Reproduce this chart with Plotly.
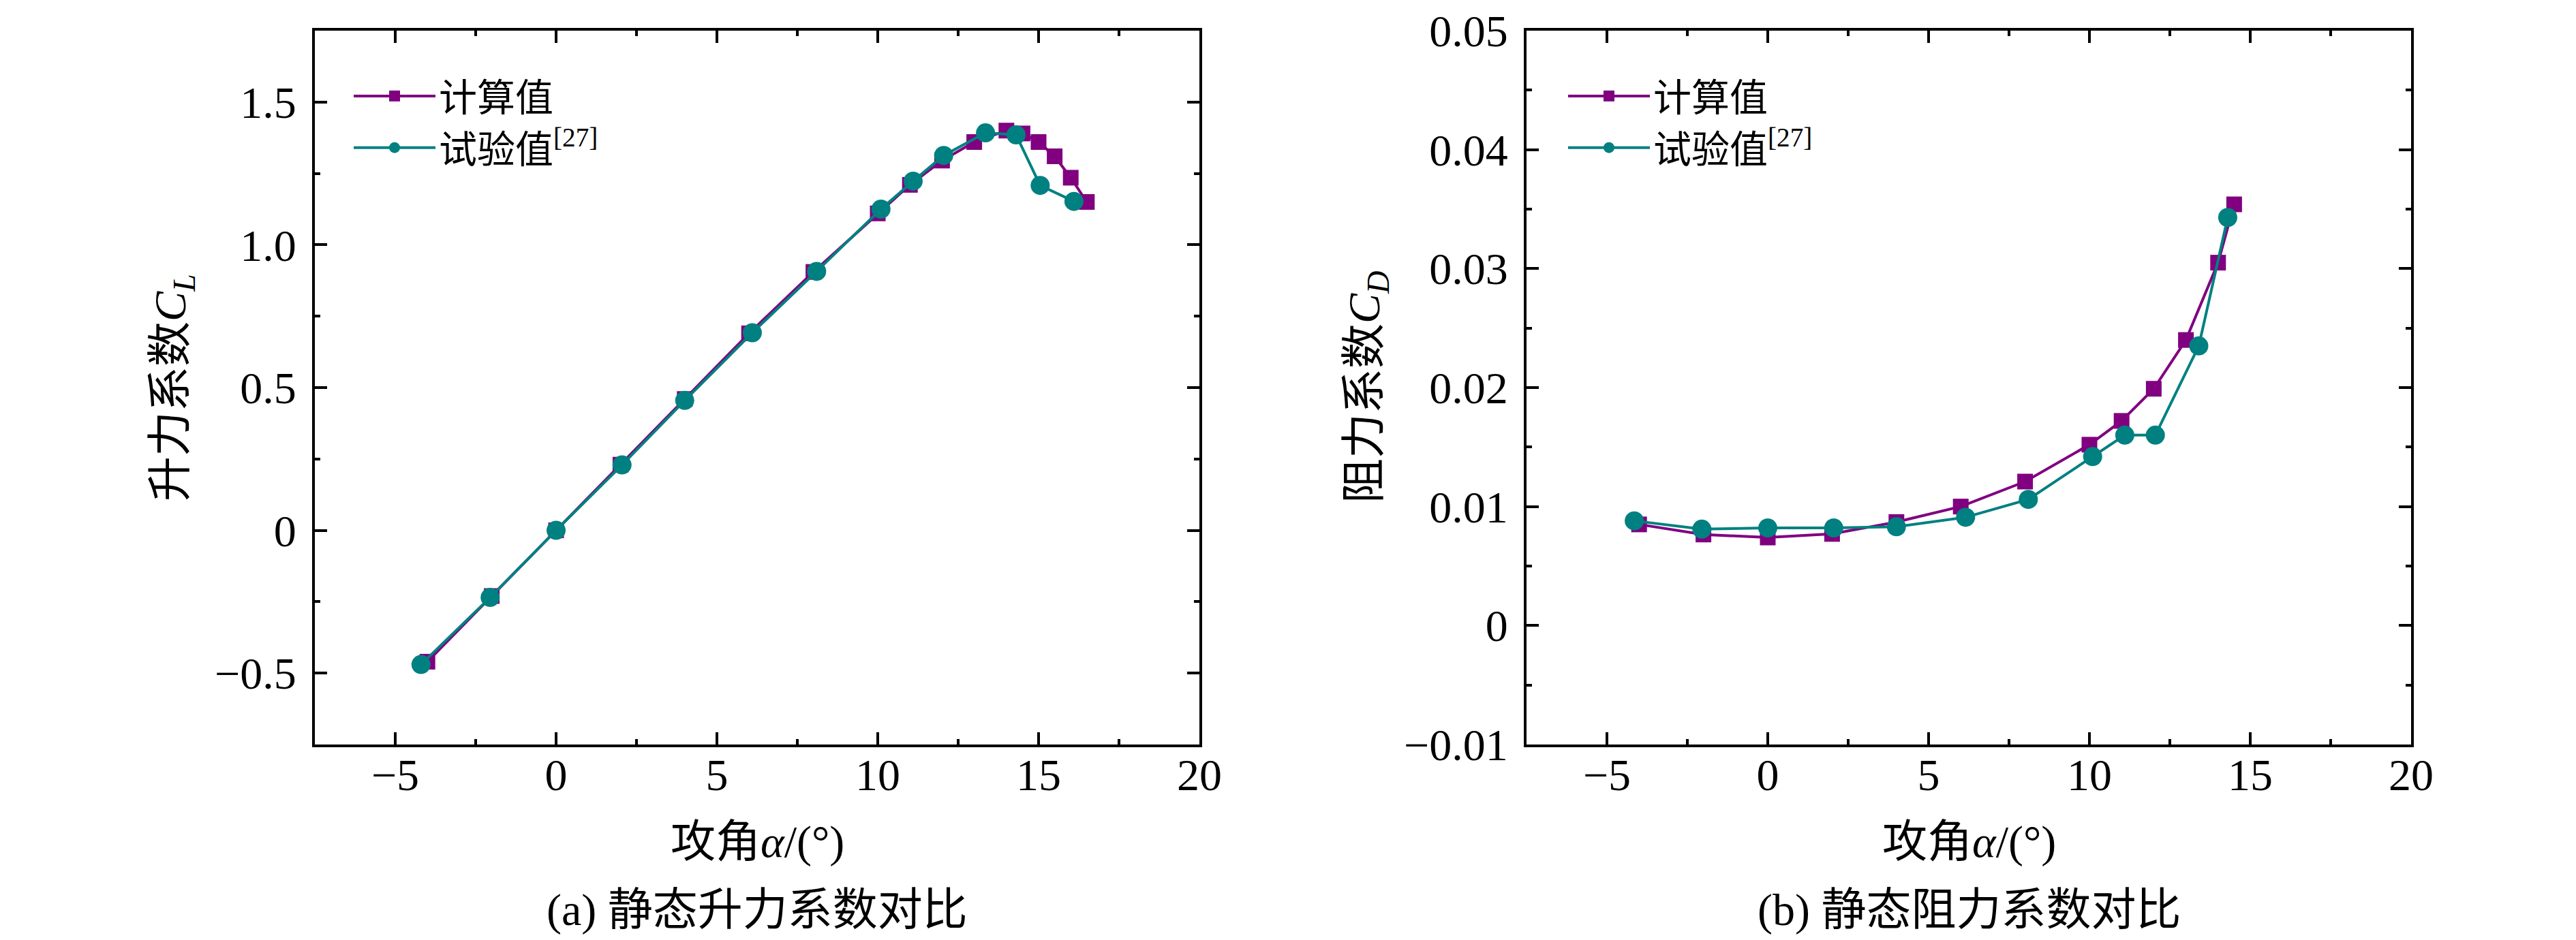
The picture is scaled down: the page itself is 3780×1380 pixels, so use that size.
import plotly.graph_objects as go

# ---------------- data ----------------
# (a) lift coefficient
cl_calc_alpha = [-4, -2, 0, 2, 4, 6, 8, 10, 11, 12, 13, 14, 14.5, 15, 15.5, 16, 16.5]
cl_calc = [-0.46, -0.23, 0.0, 0.23, 0.46, 0.69, 0.905, 1.11, 1.21, 1.295, 1.36, 1.40, 1.39, 1.36, 1.31, 1.235, 1.15]
cl_exp_alpha = [-4.2, -2.05, 0.0, 2.05, 4.0, 6.1, 8.1, 10.1, 11.1, 12.05, 13.35, 14.3, 15.05, 16.1]
cl_exp = [-0.47, -0.235, 0.0, 0.229, 0.455, 0.692, 0.907, 1.125, 1.223, 1.313, 1.392, 1.385, 1.208, 1.152]

# (b) drag coefficient
cd_calc_alpha = [-4, -2, 0, 2, 4, 6, 8, 10, 11, 12, 13, 14, 14.5]
cd_calc = [0.0085, 0.00765, 0.0074, 0.0077, 0.0087, 0.0100, 0.0121, 0.0152, 0.0172, 0.0199, 0.0240, 0.0305, 0.0354]
cd_exp_alpha = [-4.15, -2.05, 0.0, 2.05, 4.0, 6.15, 8.1, 10.1, 11.1, 12.05, 13.4, 14.3]
cd_exp = [0.0088, 0.0081, 0.0082, 0.0082, 0.0083, 0.0091, 0.0106, 0.0142, 0.0160, 0.0160, 0.0235, 0.0343]

# tick labels
x_tickvals = [-5, 0, 5, 10, 15, 20]
x_ticktext = ["\u22125", "0", "5", "10", "15", "20"]
cl_tickvals = [-0.5, 0, 0.5, 1.0, 1.5]
cl_ticktext = ["\u22120.5", "0", "0.5", "1.0", "1.5"]
cd_tickvals = [-0.01, 0, 0.01, 0.02, 0.03, 0.04, 0.05]
cd_ticktext = ["\u22120.01", "0", "0.01", "0.02", "0.03", "0.04", "0.05"]

name_calc = "计算值"
name_exp = "试验值<sup>[27]</sup>"

# ---------------- style ----------------
W, H = 3780, 1380
PURPLE = "#800080"
TEAL = "#008080"
FONT = "Times New Roman, Liberation Serif, Noto Sans CJK SC"
FS = 66
LFS = 56

fig = go.Figure()

def add_pair(xc, yc, xe, ye, xa, ya, leg):
    fig.add_trace(go.Scatter(
        x=xc, y=yc, name=name_calc, mode="lines+markers",
        line=dict(color=PURPLE, width=4),
        marker=dict(symbol="square", size=23, color=PURPLE),
        xaxis=xa, yaxis=ya, legend=leg))
    fig.add_trace(go.Scatter(
        x=xe, y=ye, name=name_exp, mode="lines+markers",
        line=dict(color=TEAL, width=4),
        marker=dict(symbol="circle", size=28, color=TEAL),
        xaxis=xa, yaxis=ya, legend=leg))

add_pair(cl_calc_alpha, cl_calc, cl_exp_alpha, cl_exp, "x", "y", "legend")
add_pair(cd_calc_alpha, cd_calc, cd_exp_alpha, cd_exp, "x2", "y2", "legend2")

# plot frames in pixels
L1, R1 = 454, 1752
L2, R2 = 2232, 3530
T, B = 37, 1085

def px(v):
    return v / W

def py(v):
    return 1 - v / H

common = dict(
    showline=True, linecolor="black", linewidth=4, mirror="allticks",
    ticks="inside", ticklen=18, tickwidth=3.5, tickcolor="black",
    showgrid=False, zeroline=False, automargin=False,
    tickfont=dict(family=FONT, size=FS, color="black"),
)

xax = dict(common, range=[-7.5, 20], tickmode="array", tickvals=x_tickvals, ticktext=x_ticktext,
           ticklabelstandoff=-16,
           minor=dict(ticks="inside", ticklen=8, tickwidth=3.5, tickcolor="black", dtick=2.5, tick0=0, showgrid=False))

fig.update_layout(
    width=W, height=H,
    margin=dict(l=0, r=0, t=0, b=0, autoexpand=False),
    paper_bgcolor="white", plot_bgcolor="white",
    font=dict(family=FONT, size=FS, color="black"),
    showlegend=True,
    xaxis=dict(xax, domain=[px(L1), px(R1)], anchor="y"),
    yaxis=dict(common, domain=[py(B), py(T)], anchor="x", range=[-0.75, 1.75], ticklabelstandoff=10,
               tickmode="array", tickvals=cl_tickvals, ticktext=cl_ticktext,
               minor=dict(ticks="inside", ticklen=8, tickwidth=3.5, tickcolor="black", dtick=0.25, tick0=0, showgrid=False)),
    xaxis2=dict(xax, domain=[px(L2), px(R2)], anchor="y2"),
    yaxis2=dict(common, domain=[py(B), py(T)], anchor="x2", range=[-0.01, 0.05], ticklabelstandoff=10,
                tickmode="array", tickvals=cd_tickvals, ticktext=cd_ticktext,
                minor=dict(ticks="inside", ticklen=8, tickwidth=3.5, tickcolor="black", dtick=0.005, tick0=0, showgrid=False)),
    legend=dict(x=px(L1 + 52), y=py(T + 53), xanchor="left", yanchor="top",
                bgcolor="rgba(0,0,0,0)", borderwidth=0, itemwidth=120,
                font=dict(family=FONT, size=LFS, color="black"), tracegroupgap=0),
    legend2=dict(x=px(L2 + 56), y=py(T + 53), xanchor="left", yanchor="top",
                 bgcolor="rgba(0,0,0,0)", borderwidth=0, itemwidth=120,
                 font=dict(family=FONT, size=LFS, color="black"), tracegroupgap=0),
)

annots = [
    dict(text="攻角<i>α</i>/(°)", x=px((L1 + R1) / 2), y=py(1228), xref="paper", yref="paper",
         showarrow=False, xanchor="center", yanchor="middle"),
    dict(text="攻角<i>α</i>/(°)", x=px((L2 + R2) / 2), y=py(1228), xref="paper", yref="paper",
         showarrow=False, xanchor="center", yanchor="middle"),
    dict(text="(a) 静态升力系数对比", x=px((L1 + R1) / 2), y=py(1328), xref="paper", yref="paper",
         showarrow=False, xanchor="center", yanchor="middle"),
    dict(text="(b) 静态阻力系数对比", x=px((L2 + R2) / 2), y=py(1328), xref="paper", yref="paper",
         showarrow=False, xanchor="center", yanchor="middle"),
    dict(text="升力系数<i>C</i><sub><i>L</i></sub>", x=px(246), y=py((T + B) / 2), xref="paper", yref="paper",
         showarrow=False, xanchor="center", yanchor="middle", textangle=-90),
    dict(text="阻力系数<i>C</i><sub><i>D</i></sub>", x=px(1998), y=py((T + B) / 2), xref="paper", yref="paper",
         showarrow=False, xanchor="center", yanchor="middle", textangle=-90),
]
for a in annots:
    a["font"] = dict(family=FONT, size=FS, color="black")
fig.update_layout(annotations=annots)

fig.write_html("out.html")
